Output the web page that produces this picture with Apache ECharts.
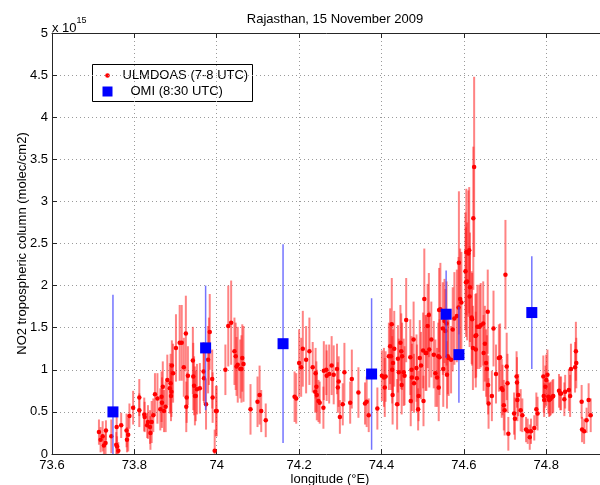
<!DOCTYPE html>
<html>
<head>
<meta charset="utf-8">
<script src="https://cdn.jsdelivr.net/npm/echarts@6/dist/echarts.min.js"></script>
<style>html,body{margin:0;padding:0;background:#fff}#c{width:600px;height:485px}</style>
</head>
<body>
<div id="c"></div>
<script>
// ULMDOAS measurements: [longitude, NO2 column (x1e15), error]
var ULM = [
[73.714,0.26,0.15],[73.718,0.17,0.15],[73.723,0.21,0.18],[73.726,0.10,0.12],[73.730,0.13,0.15],[73.731,0.28,0.12],
[73.744,0.21,0.2],[73.757,0.32,0.18],[73.756,0.11,0.15],[73.758,0.09,0.12],[73.761,0.04,0.1],[73.768,0.34,0.15],
[73.781,0.28,0.2],[73.782,0.17,0.15],[73.785,0.23,0.2],[73.788,0.45,0.15],[73.797,0.55,0.2],
[73.812,0.67,0.22],[73.812,0.52,0.2],[73.824,0.47,0.2],[73.825,0.44,0.18],[73.831,0.34,0.15],[73.833,0.38,0.2],
[73.838,0.32,0.2],[73.839,0.25,0.2],[73.842,0.38,0.25],[73.846,0.46,0.2],[73.850,0.71,0.25],[73.856,0.66,0.3],
[73.863,0.53,0.25],[73.866,0.68,0.3],[73.867,0.61,0.3],[73.869,0.80,0.3],[73.872,0.51,0.25],[73.876,0.56,0.3],
[73.880,0.88,0.3],[73.886,0.78,0.3],[73.888,0.84,0.35],[73.890,0.74,0.3],[73.891,1.05,0.3],[73.889,0.69,0.3],
[73.894,0.96,0.35],[73.901,1.26,0.4],[73.910,1.32,0.45],[73.915,1.32,0.45],[73.920,1.03,0.35],[73.925,1.43,0.45],
[73.926,0.56,0.3],[73.927,0.67,0.3],[73.930,0.93,0.35],[73.942,1.11,0.4],[73.943,0.92,0.4],[73.945,0.81,0.35],
[73.947,0.69,0.35],[73.949,0.69,0.3],[73.952,0.77,0.3],[73.959,0.78,0.3],[73.968,0.98,0.35],[73.969,0.90,0.3],
[73.974,0.59,0.3],[73.979,1.12,0.4],[73.981,1.22,0.4],[73.983,1.45,0.45],[73.989,0.89,0.35],[73.990,0.67,0.3],
[73.995,0.04,0.25],[73.998,0.51,0.3],[74.000,0.51,0.3],
[74.021,1.00,0.3],[74.028,1.52,0.48],[74.035,1.56,0.5],[74.043,1.22,0.4],[74.046,1.16,0.4],[74.048,1.04,0.35],
[74.051,1.06,0.45],[74.057,1.01,0.35],[74.060,1.01,0.4],[74.062,1.14,0.4],[74.065,1.07,0.45],[74.082,0.53,0.3],
[74.099,0.62,0.3],[74.104,0.70,0.35],[74.108,0.51,0.25],[74.119,0.40,0.2],
[74.189,0.68,0.3],[74.193,0.66,0.3],[74.200,1.08,0.4],[74.205,1.03,0.35],[74.209,1.25,0.45],[74.217,1.12,0.4],
[74.225,1.22,0.4],[74.233,1.03,0.3],[74.240,0.96,0.3],[74.239,0.74,0.25],[74.242,0.80,0.3],[74.243,0.70,0.3],
[74.247,0.63,0.25],[74.250,0.61,0.25],[74.259,0.55,0.25],[74.260,0.99,0.35],[74.266,1.00,0.3],[74.267,0.93,0.3],
[74.273,0.95,0.35],[74.279,1.05,0.35],[74.284,0.94,0.35],[74.292,1.01,0.3],[74.294,0.79,0.3],[74.296,0.86,0.3],
[74.299,0.44,0.2],[74.306,0.59,0.25],[74.310,0.97,0.35],[74.324,0.61,0.25],[74.328,0.89,0.35],[74.344,0.73,0.3],
[74.360,0.60,0.25],[74.364,0.62,0.3],[74.369,0.46,0.2],[74.390,0.54,0.25],
[74.401,0.93,0.3],[74.406,0.91,0.35],[74.408,0.79,0.35],[74.410,0.92,0.3],[74.418,1.16,0.4],[74.421,1.28,0.45],
[74.423,1.16,0.4],[74.425,1.54,0.55],[74.426,1.00,0.4],[74.427,0.70,0.35],[74.428,1.08,0.4],[74.431,1.25,0.45],
[74.438,0.59,0.3],[74.440,1.13,0.4],[74.442,0.97,0.4],[74.446,1.32,0.45],[74.448,1.22,0.45],[74.450,1.16,0.4],
[74.449,0.82,0.35],[74.454,0.97,0.4],[74.456,0.93,0.35],[74.460,1.59,0.5],[74.470,1.15,0.45],[74.471,0.63,0.3],
[74.473,1.00,0.4],[74.474,0.91,0.4],[74.478,1.36,0.45],[74.479,0.84,0.35],[74.485,1.02,0.4],[74.486,0.90,0.4],
[74.489,0.53,0.25],[74.490,0.69,0.3],[74.493,1.14,0.45],[74.496,1.05,0.4],[74.501,1.23,0.45],[74.502,0.63,0.3],
[74.504,1.84,0.6],[74.507,1.20,0.45],[74.509,1.20,0.45],[74.512,1.52,0.5],[74.515,1.65,0.5],[74.516,1.24,0.45],
[74.521,1.36,0.45],[74.527,1.18,0.4],[74.531,0.96,0.4],[74.535,0.91,0.35],[74.538,1.16,0.4],[74.540,1.71,0.5],
[74.539,0.79,0.4],[74.541,1.15,0.45],[74.543,1.72,0.55],[74.549,1.49,0.55],[74.550,1.01,0.45],[74.553,1.58,0.5],
[74.555,1.46,0.5],[74.558,1.55,0.5],[74.559,0.94,0.4],[74.561,1.16,0.45],[74.563,1.14,0.45],[74.569,1.12,0.4],
[74.573,1.48,0.5],[74.577,1.61,0.55],[74.583,1.64,0.55],[74.587,1.74,0.6],[74.588,2.27,0.85],[74.591,1.84,0.6],
[74.594,1.80,0.6],[74.604,2.17,0.7],[74.605,2.04,0.65],[74.606,2.40,0.75],[74.608,2.05,0.7],[74.611,2.38,0.75],
[74.613,2.42,0.75],[74.614,1.87,0.6],[74.615,1.98,0.65],[74.619,1.62,0.55],[74.620,1.60,0.55],[74.623,2.80,0.85],
[74.622,1.26,0.5],[74.625,3.41,1.07],[74.628,1.40,0.5],[74.629,1.24,0.45],[74.630,1.41,0.5],[74.633,1.51,0.5],
[74.638,1.51,0.5],[74.641,1.53,0.5],[74.647,1.55,0.5],[74.648,1.20,0.45],[74.651,1.31,0.45],[74.654,1.08,0.4],
[74.656,1.01,0.4],[74.658,1.69,0.5],[74.659,0.82,0.35],[74.660,0.60,0.3],[74.668,0.69,0.3],[74.672,1.49,0.45],
[74.678,0.95,0.35],[74.685,1.14,0.4],[74.688,1.15,0.4],[74.692,0.78,0.35],[74.694,0.76,0.3],[74.697,0.58,0.3],
[74.699,0.52,0.3],[74.701,2.13,0.65],[74.704,1.04,0.4],[74.706,0.84,0.35],[74.708,0.24,0.2],
[74.722,0.48,0.25],[74.724,0.42,0.25],[74.728,0.92,0.3],[74.729,0.85,0.3],[74.730,0.64,0.25],[74.732,0.70,0.25],
[74.738,0.52,0.25],[74.742,0.46,0.2],[74.751,0.29,0.15],[74.755,0.27,0.15],[74.760,0.20,0.15],[74.763,0.27,0.15],
[74.771,0.31,0.15],[74.776,0.53,0.2],[74.779,0.48,0.2],[74.793,0.92,0.25],[74.794,0.69,0.2],[74.795,0.64,0.2],
[74.798,0.80,0.25],[74.800,0.88,0.3],[74.803,0.94,0.3],[74.805,0.68,0.2],[74.807,0.64,0.2],[74.809,0.65,0.2],
[74.811,0.66,0.2],[74.815,0.68,0.2],[74.817,0.69,0.2],[74.831,0.75,0.2],[74.834,0.72,0.2],[74.836,0.72,0.2],
[74.844,0.65,0.2],[74.846,0.74,0.2],[74.855,0.76,0.25],[74.858,0.69,0.25],[74.860,1.01,0.3],[74.870,1.03,0.3],
[74.872,1.22,0.35],[74.873,1.08,0.3],[74.886,0.62,0.2],[74.887,0.29,0.15],[74.892,0.27,0.15],[74.898,0.40,0.15],
[74.903,0.64,0.2],[74.908,0.46,0.2]
];
// OMI satellite pixels
var OMI_LON = [73.748, 73.973, 74.161, 74.376, 74.557, 74.588, 74.765];
var OMI_NO2 = [0.50, 1.26, 1.31, 0.95, 1.66, 1.18, 1.68];
var OMI_ERR = [1.39, 0.74, 1.18, 0.90, 0.52, 0.57, 0.67];
// Axis ticks
var X_MIN = 73.6, X_MAX = 74.95, X_STEP = 0.2;
var Y_MIN = 0, Y_MAX = 5, Y_STEP = 0.5;

var omiData = OMI_LON.map(function(x, i){ return [x, OMI_NO2[i], OMI_ERR[i]]; });

function errBar(color, width){
  return function(params, api){
    var x = api.value(0), y = api.value(1), e = api.value(2);
    var lo = api.coord([x, Math.max(0, y - e)]);
    var hi = api.coord([x, y + e]);
    return {type:'line', shape:{x1:lo[0], y1:lo[1], x2:hi[0], y2:hi[1]},
            style:{stroke:color, lineWidth:width}};
  };
}

var FONT = 'Liberation Sans, Arial, sans-serif';
var chart = echarts.init(document.getElementById('c'), null, {renderer:'canvas'});
var axisCol = '#262626';
chart.setOption({
  backgroundColor:'#fff',
  animation:false,
  textStyle:{fontFamily:FONT},
  title:{text:'Rajasthan, 15 November 2009', left:330, top:8, textAlign:'center',
         textStyle:{fontSize:13, fontWeight:'normal', color:'#000', fontFamily:FONT}},
  grid:{left:52, top:33, right:-8, bottom:31, containLabel:false, outerBoundsMode:'none'},
  xAxis:[{
    type:'value', min:X_MIN, max:X_MAX, interval:X_STEP,
    name:'longitude (°E)', nameLocation:'middle', nameGap:19, nameMoveOverlap:false,
    nameTextStyle:{fontSize:13, color:'#000', fontFamily:FONT},
    axisLine:{show:true, onZero:false, lineStyle:{color:axisCol, width:1}},
    axisTick:{show:true, inside:true, length:5, lineStyle:{color:axisCol}},
    axisLabel:{fontSize:13, color:'#000', margin:5, showMaxLabel:false, fontFamily:FONT,
               formatter:function(v){ return String(+v.toFixed(1)); }},
    splitLine:{show:true, lineStyle:{color:'#9a9a9a', type:[1,3], width:1}}
  },{
    type:'value', min:X_MIN, max:X_MAX, interval:X_STEP, position:'top',
    axisLine:{show:true, onZero:false, lineStyle:{color:axisCol, width:1}},
    axisTick:{show:true, inside:true, length:5, lineStyle:{color:axisCol}},
    axisLabel:{show:false}, splitLine:{show:false}
  }],
  yAxis:{
    type:'value', min:Y_MIN, max:Y_MAX, interval:Y_STEP,
    name:'NO2 tropospheric column (molec/cm2)', nameLocation:'middle', nameGap:23, nameMoveOverlap:false,
    nameTextStyle:{fontSize:13, color:'#000', fontFamily:FONT},
    axisLine:{show:true, lineStyle:{color:axisCol, width:1}},
    axisTick:{show:true, inside:true, length:5, lineStyle:{color:axisCol}},
    axisLabel:{fontSize:13, color:'#000', margin:4, fontFamily:FONT},
    splitLine:{show:true, lineStyle:{color:'#9a9a9a', type:[1,3], width:1}}
  },
  series:[
    {type:'custom', name:'ulmErr', data:ULM, renderItem:errBar('rgba(255,30,30,0.55)', 2), clip:true, z:2,
     encode:{x:0, y:1}},
    {type:'scatter', name:'ULMDOAS (7-8 UTC)', data:ULM.map(function(d){return [d[0], d[1]];}),
     symbol:'circle', symbolSize:4.5, itemStyle:{color:'#ff0000', opacity:1}, z:3},
    {type:'custom', name:'omiErr', data:omiData, renderItem:errBar('rgba(70,70,255,0.75)', 1.5), clip:true, z:4,
     encode:{x:0, y:1}},
    {type:'scatter', name:'OMI (8:30 UTC)', data:omiData.map(function(d){return [d[0], d[1]];}),
     symbol:'rect', symbolSize:11, itemStyle:{color:'#0000ff', opacity:1}, z:5}
  ],
  graphic:[
    {type:'text', left:52, top:16, z:10, style:{
      text:'{a|x 10}{b|15}', font:'13px '+FONT, fill:'#000',
      rich:{a:{fontSize:13, fontFamily:FONT, fill:'#000', verticalAlign:'bottom'}, b:{fontSize:9, fontFamily:FONT, fill:'#000', padding:[0,0,10,0]}}
    }},
    {type:'group', z:20, left:92, top:64, children:[
      {type:'rect', shape:{x:0, y:0, width:160, height:37}, style:{fill:'#fff', stroke:'#000', lineWidth:1}},
      {type:'circle', shape:{cx:15, cy:11, r:2.3}, style:{fill:'#ff0000'}},
      {type:'text', style:{x:30, y:11, text:'ULMDOAS (7-8 UTC)', font:'13px '+FONT, fill:'#000', textVerticalAlign:'middle'}},
      {type:'rect', shape:{x:10, y:22, width:10, height:10}, style:{fill:'#0000ff'}},
      {type:'text', style:{x:38, y:27, text:'OMI (8:30 UTC)', font:'13px '+FONT, fill:'#000', textVerticalAlign:'middle'}}
    ]}
  ]
});
</script>
</body>
</html>
